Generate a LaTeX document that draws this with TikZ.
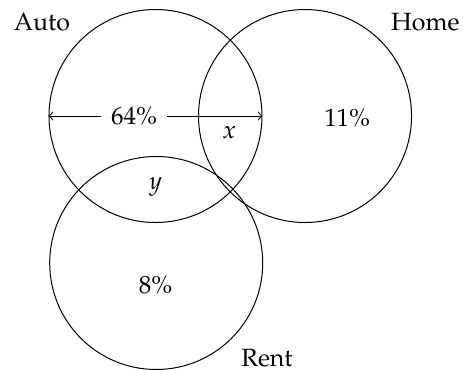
\documentclass[tikz,border=0pt]{standalone}
\usepackage[T1]{fontenc}
\usepackage{amsmath}
\usepackage{mathpazo}
\usepackage{tikz}

\begin{document}
\begin{tikzpicture}[
		setcirc/.style={draw,circle,minimum size=3cm,inner sep=0pt}]
		\useasboundingbox (-2.19,-3.577) rectangle (4.345,1.634);
		\node[setcirc] (auto) at (0,0) {};
		\node[setcirc] (home) at (2.106,0) {};
		\node[setcirc] (rent) at (0.01,-2.07) {};
		\node (autolbl) at (-1.6,1.32) {Auto};
		\node (homelbl) at (3.8,1.32) {Home};
		\node (rentlbl) at (1.57,-3.41) {Rent};
		\draw[<->] (auto.west) -- (auto.east)
			node[pos=0.4,fill=white,inner sep=4pt] (pauto) {64\%};
		\node (px) at (1.04,-0.24) {$x$};
		\node (py) at (0,-1.0) {$y$};
		\node (phome) at (2.7,-0.03) {11\%};
		\node (prent) at (0,-2.38) {8\%};
	\end{tikzpicture}
\end{document}
